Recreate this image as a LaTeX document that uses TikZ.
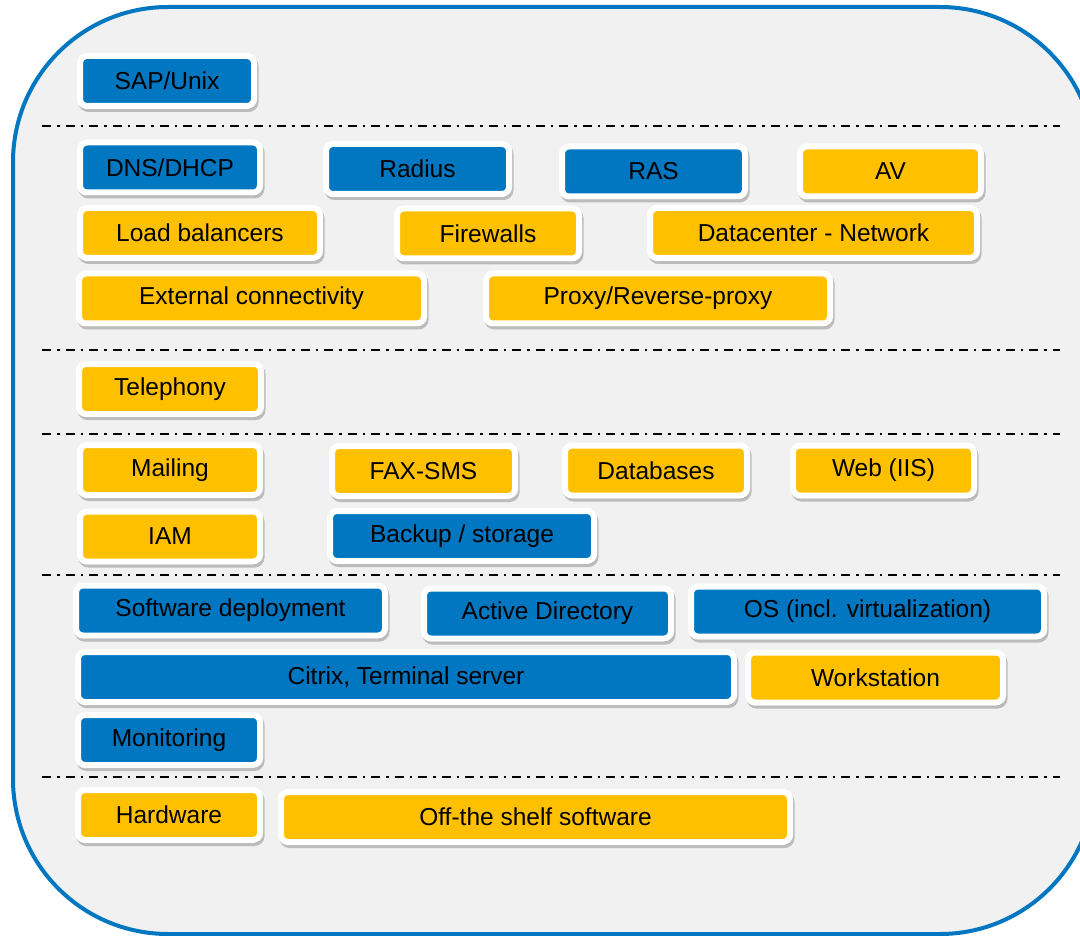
\documentclass[tikz,border=0pt]{standalone}
\usepackage{fontspec}
\setmainfont{Liberation Sans}
\usetikzlibrary{shadows}
\definecolor{msblue}{HTML}{0077C0}
\definecolor{msamber}{HTML}{FFC000}
\definecolor{panelgrey}{HTML}{F1F1F1}
\begin{document}
\begin{tikzpicture}[
    x=1pt,y=-1pt,
    panel/.style={draw=msblue,fill=panelgrey,line width=4pt,rounded corners=155pt},
    sep/.style={draw=black,line width=1.6pt,dash pattern=on 9pt off 6pt on 2.5pt off 6pt},
    box/.style={draw=white,line width=6pt,rounded corners=7pt,inner sep=0pt,
        minimum height=50pt,font=\fontsize{24.5}{28}\selectfont,text=black,
        drop shadow={shadow xshift=1.5pt,shadow yshift=-3pt,fill=black,
            draw=black,line width=6pt,opacity=.22}},
    bluebox/.style={box,fill=msblue},
    amberbox/.style={box,fill=msamber}]
\useasboundingbox (0,0) rectangle (1080,936);
\draw[panel] (13,7) rectangle (1095,934);
% separators
\draw[sep] (42,126)--(1060,126);
\draw[sep] (42,350)--(1060,350);
\draw[sep] (42,434)--(1060,434);
\draw[sep] (42,575)--(1060,575);
\draw[sep] (42,777)--(1060,777);
% top
\node[bluebox,minimum width=174pt] (sap-unix) at (167,81) {SAP/Unix};
% network
\node[bluebox,minimum width=180pt] (dns-dhcp) at (170,167.5) {DNS/DHCP};
\node[bluebox,minimum width=183pt] (radius) at (417.5,169) {Radius};
\node[bluebox,minimum width=183pt] (ras) at (653.5,171.5) {RAS};
\node[amberbox,minimum width=181pt] (av) at (890.5,171.5) {AV};
\node[amberbox,minimum width=240pt] (load-balancers) at (200,233) {Load balancers};
\node[amberbox,minimum width=182pt] (firewalls) at (488,233.5) {Firewalls};
\node[amberbox,minimum width=327pt] (dc-network) at (813.5,233) {Datacenter - Network};
\node[amberbox,minimum width=345pt] (ext-connectivity) at (251.5,298.5) {External connectivity};
\node[amberbox,minimum width=344pt] (proxy) at (658,298.5) {Proxy/Reverse-proxy};
% telephony
\node[amberbox,minimum width=182pt] (telephony) at (170,389) {Telephony};
% applications
\node[amberbox,minimum width=180pt] (mailing) at (170,470) {Mailing};
\node[amberbox,minimum width=183pt] (fax-sms) at (423.5,471) {FAX-SMS};
\node[amberbox,minimum width=182pt] (databases) at (656,470.5) {Databases};
\node[amberbox,minimum width=181pt] (web-iis) at (883.5,470.5) {Web (IIS)};
\node[amberbox,minimum width=180pt] (iam) at (170,536.5) {IAM};
\node[bluebox,minimum width=264pt] (backup) at (462,536) {Backup / storage};
% infrastructure
\node[bluebox,minimum width=309pt] (sw-deployment) at (230.5,610.5) {Software deployment};
\node[bluebox,minimum width=247pt] (active-directory) at (547.5,613.5) {Active Directory};
\node[bluebox,minimum width=353pt] (os) at (867.5,611.5) {OS (incl. virtualization)};
\node[bluebox,minimum width=656pt] (citrix) at (406,677) {Citrix, Terminal server};
\node[amberbox,minimum width=255pt] (workstation) at (875.5,677.5) {Workstation};
\node[bluebox,minimum width=182pt] (monitoring) at (169,740) {Monitoring};
% hardware
\node[amberbox,minimum width=182pt] (hardware) at (169,815) {Hardware};
\node[amberbox,minimum width=509pt] (off-shelf) at (535.5,817) {Off-the shelf software};
\end{tikzpicture}
\end{document}
